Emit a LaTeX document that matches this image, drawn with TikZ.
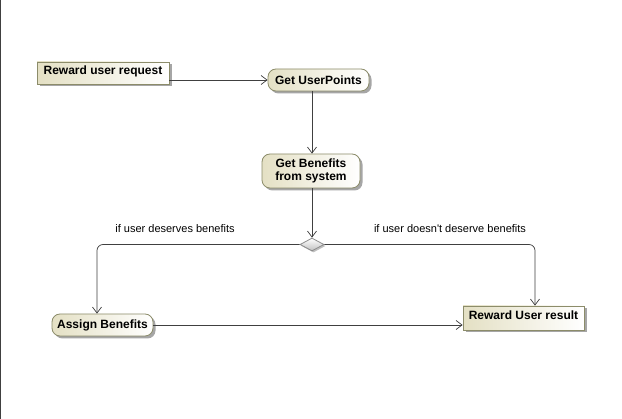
\documentclass[tikz,border=0pt]{standalone}
\usepackage{fontspec}
\setmainfont{Liberation Sans}
\usetikzlibrary{arrows.meta,shapes.geometric,shadows}
\definecolor{nodeborder}{HTML}{8C8C6A}
\definecolor{nodefill}{HTML}{E4E0C4}
\definecolor{linecol}{HTML}{404040}
\tikzset{
  base/.style={draw=nodeborder, line width=0.8pt, left color=nodefill, right color=white,
    font=\fontsize{12}{14}\selectfont\bfseries, inner sep=0pt, align=center,
    drop shadow={shadow xshift=2.5pt, shadow yshift=-2.5pt, fill=black!35, opacity=1}},
  actbox/.style={base, rounded corners=8pt},
  pinbox/.style={base, text height=9pt, text depth=6pt},
  decis/.style={diamond, draw=black!45, line width=0.8pt, top color=white, bottom color=black!25,
    inner sep=0pt, minimum width=24pt, minimum height=13pt,
    drop shadow={shadow xshift=1.5pt, shadow yshift=-1.5pt, fill=black!25, opacity=1}},
  flow/.style={draw=linecol, line width=0.7pt, -{Straight Barb[length=6pt,width=9pt]}},
  guard/.style={font=\fontsize{11}{13}\selectfont}
}
\begin{document}
\begin{tikzpicture}[x=1pt,y=-1pt]
\useasboundingbox (0,0) rectangle (622,419);
\fill[white] (0,0) rectangle (622,419);
\draw[black!75, line width=1.2pt] (0.6,0) -- (0.6,419);

\node[pinbox, minimum width=132pt, minimum height=22pt] (req) at (103,73) {Reward user request};
\node[actbox, minimum width=101pt, minimum height=22pt] (up) at (318.5,80) {Get UserPoints};
\node[actbox, minimum width=98pt, minimum height=34pt] (ben) at (311,171) {Get Benefits\\[-1pt]from system};
\node[decis] (dia) at (312,244.5) {};
\node[actbox, minimum width=101pt, minimum height=22pt] (asg) at (102.5,325) {Assign Benefits};
\node[pinbox, minimum width=121pt, minimum height=24pt] (res) at (523.5,318) {Reward User result};
\coordinate (lc) at (97,244.5);
\coordinate (rc) at (535,244.5);

\node[guard] (g1) at (175,229) {if user deserves benefits};
\node[guard] (g2) at (450,229) {if user doesn\textquotesingle t deserve benefits};

\draw[flow] (req.east |- up.west) -- (up.west);
\draw[flow] (up.south -| dia) -- (ben.north -| dia);
\draw[flow] (ben.south -| dia) -- (dia.north);
\draw[flow, rounded corners=6pt] (dia.west) -- (lc) -- (lc |- asg.north);
\draw[flow, rounded corners=6pt] (dia.east) -- (rc) -- (rc |- res.north);
\draw[flow] (asg.east) -- (asg.east -| res.west);
\end{tikzpicture}
\end{document}
